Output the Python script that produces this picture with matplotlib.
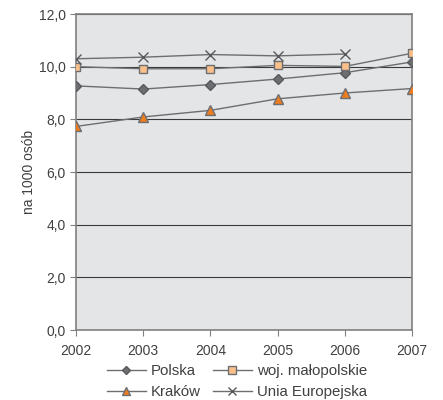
import matplotlib.pyplot as plt
from matplotlib.ticker import FuncFormatter

plt.rcParams['font.family'] = ['Liberation Sans', 'DejaVu Sans']

# dane: wskaźnik na 1000 osób
years = [2002, 2003, 2004, 2005, 2006, 2007]
polska = [9.27, 9.15, 9.32, 9.53, 9.77, 10.18]
malopolskie = [10.0, 9.92, 9.92, 10.05, 10.01, 10.51]
krakow = [7.73, 8.09, 8.34, 8.78, 9.0, 9.17]
ue_years = [2002, 2003, 2004, 2005, 2006]
ue = [10.3, 10.36, 10.46, 10.41, 10.48]

txt = '#404040'
line_c = '#6d6e71'

fig = plt.figure(figsize=(4.43, 4.0), dpi=100)
ax = fig.add_axes([0.1716, 0.175, 0.7584, 0.79])
ax.set_facecolor('#e4e5e7')

h1, = ax.plot(years, polska, color=line_c, lw=1, marker='D', ms=5,
              mfc='#6d6e71', mec='#58595b', label='Polska', zorder=3)
h2, = ax.plot(years, malopolskie, color=line_c, lw=1, marker='s', ms=6,
              mfc='#fbbf8a', mec='#6d6e71', label='woj. małopolskie', zorder=3)
h3, = ax.plot(years, krakow, color=line_c, lw=1, marker='^', ms=7,
              mfc='#ee7d1f', mec='#6d6e71', label='Kraków', zorder=3)
h4, = ax.plot(ue_years, ue, color=line_c, lw=1, marker='x', ms=7,
              mew=1, mec='#58595b', label='Unia Europejska', zorder=3)

ax.set_xlim(2002, 2007)
ax.set_ylim(0, 12)
ax.set_yticks(range(0, 13, 2))
ax.set_xticks(years)
ax.yaxis.set_major_formatter(FuncFormatter(lambda v, p: f'{v:.1f}'.replace('.', ',')))
ax.grid(axis='y', color='#3a3a3a', lw=0.8, zorder=1)
ax.set_axisbelow(True)

for s in ax.spines.values():
    s.set_color('#808080')
    s.set_linewidth(1.2)
ax.tick_params(colors='#808080', labelcolor=txt, labelsize=10, length=4, direction='out')
ax.tick_params(axis='x', pad=6)

ax.set_ylabel('na 1000 osób', color=txt, fontsize=10, labelpad=2)

# legenda w dwóch wierszach, wypełniana wierszami
fig.legend([h1, h3, h2, h4], [h.get_label() for h in (h1, h3, h2, h4)],
           loc='upper center', bbox_to_anchor=(0.535, 0.108), ncol=2, frameon=False,
           fontsize=10.8, handlelength=2.6, handletextpad=0.35, columnspacing=0.8,
           labelspacing=0.45, labelcolor=txt, borderpad=0, markerscale=0.9)

fig.savefig('out.png', dpi=100)
